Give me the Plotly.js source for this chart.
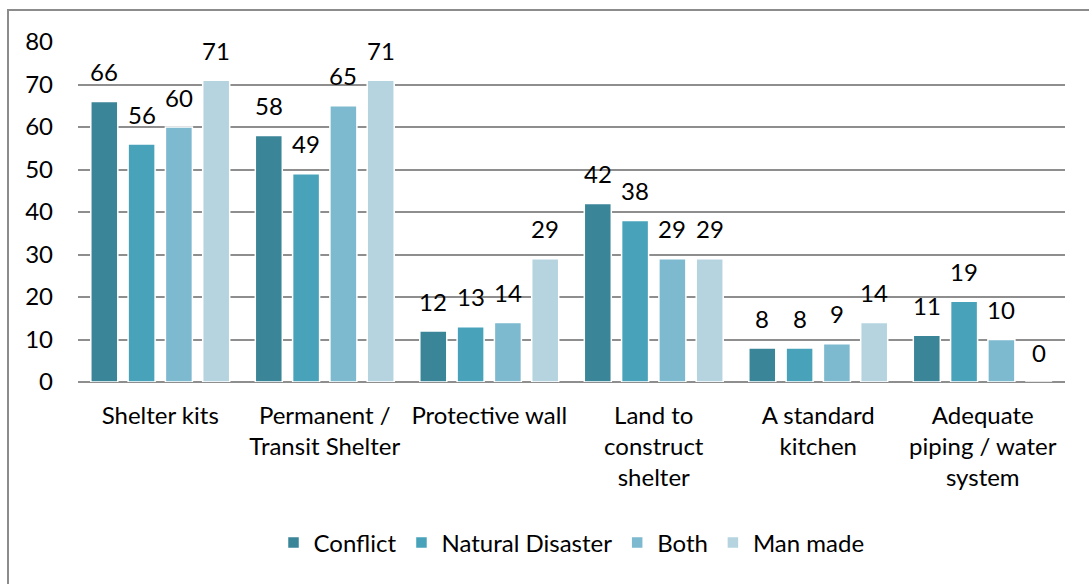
<!DOCTYPE html>
<html>
<head>
<meta charset="utf-8">
<script src="https://cdn.plot.ly/plotly-3.0.1.min.js"></script>
<style>
  html, body { margin: 0; padding: 0; background: #ffffff; }
  #chart { width: 1089px; height: 584px; }
</style>
</head>
<body>
<div id="chart"></div>
<script>
// ---- Data ----
const categories = [
  'Shelter kits',
  'Permanent /<br>Transit Shelter',
  'Protective wall',
  'Land to<br>construct<br>shelter',
  'A standard<br>kitchen',
  'Adequate<br>piping / water<br>system'
];
const seriesNames = ['Conflict', 'Natural Disaster', 'Both', 'Man made'];
const conflict        = [66, 58, 12, 42, 8, 11];
const naturalDisaster = [56, 49, 13, 38, 8, 19];
const both            = [60, 65, 14, 29, 9, 10];
const manMade         = [71, 71, 29, 29, 14, 0];
const yTickVals = [0, 10, 20, 30, 40, 50, 60, 70, 80];

// ---- Styles ----
const colors = ['#3A8598', '#47A2BA', '#7DB9CF', '#B5D4E0'];
const W = 1089, H = 584;
const margin = {l: 78, r: 24, t: 42, b: 202, pad: 0};
const bargap = 0.093, bargroupgap = 0.276;
const fontFam = 'Lato, "Open Sans", sans-serif';
const FS = 24;

const allSeries = [conflict, naturalDisaster, both, manMade];

const traces = allSeries.map((vals, i) => ({
  type: 'bar',
  name: seriesNames[i],
  x: categories,
  y: vals,
  marker: { color: colors[i], line: { color: '#ffffff', width: 1.5 } },
  hoverinfo: 'x+y+name'
}));

// data labels via annotations, shifted to each bar of the group
const plotW = W - margin.l - margin.r;
const catW = plotW / categories.length;
const slot = catW * (1 - bargap) / allSeries.length;
const annotations = [];
allSeries.forEach((vals, i) => {
  vals.forEach((v, j) => {
    annotations.push({
      x: categories[j], y: v, xref: 'x', yref: 'y',
      text: String(v), showarrow: false,
      xshift: (i - (allSeries.length - 1) / 2) * slot,
      yshift: 30, yanchor: 'middle', xanchor: 'center',
      font: { family: fontFam, size: FS, color: '#000000' }
    });
  });
});

// outer frame (left and top edges visible; extends beyond right/bottom)
const plotH = H - margin.t - margin.b;
const px2x = px => (px - margin.l) / plotW;
const py2y = py => (H - margin.b - py) / plotH;
const shapes = [{
  type: 'rect', xref: 'paper', yref: 'paper',
  x0: px2x(8), x1: px2x(W + 20), y0: py2y(H + 20), y1: py2y(10),
  line: { color: '#8c8c8c', width: 2 }, fillcolor: 'rgba(0,0,0,0)', layer: 'below'
}];

const layout = {
  width: W, height: H,
  margin: margin,
  paper_bgcolor: '#ffffff', plot_bgcolor: '#ffffff',
  barmode: 'group', bargap: bargap, bargroupgap: bargroupgap,
  font: { family: fontFam, size: FS, color: '#000000' },
  showlegend: true,
  legend: {
    orientation: 'h', x: 0.5, xanchor: 'center',
    y: py2y(543), yanchor: 'middle',
    font: { family: fontFam, size: FS, color: '#000000' },
    itemclick: false, itemdoubleclick: false, traceorder: 'normal'
  },
  xaxis: {
    type: 'category',
    showgrid: false, showline: false, zeroline: false,
    ticks: '', tickfont: { family: fontFam, size: FS, color: '#000000' },
    ticklabelstandoff: 17, tickangle: 0, automargin: false
  },
  yaxis: {
    range: [0, 80], tickvals: yTickVals, ticktext: yTickVals.map(String),
    showgrid: true, gridcolor: '#8e8e8e', gridwidth: 2,
    zeroline: true, zerolinecolor: '#8e8e8e', zerolinewidth: 2,
    showline: false, ticks: '',
    tickfont: { family: fontFam, size: FS, color: '#000000' },
    ticklabelstandoff: 24, automargin: false, fixedrange: true
  },
  annotations: annotations,
  shapes: shapes
};

Plotly.newPlot('chart', traces, layout, { displayModeBar: false, staticPlot: true });
</script>
</body>
</html>
